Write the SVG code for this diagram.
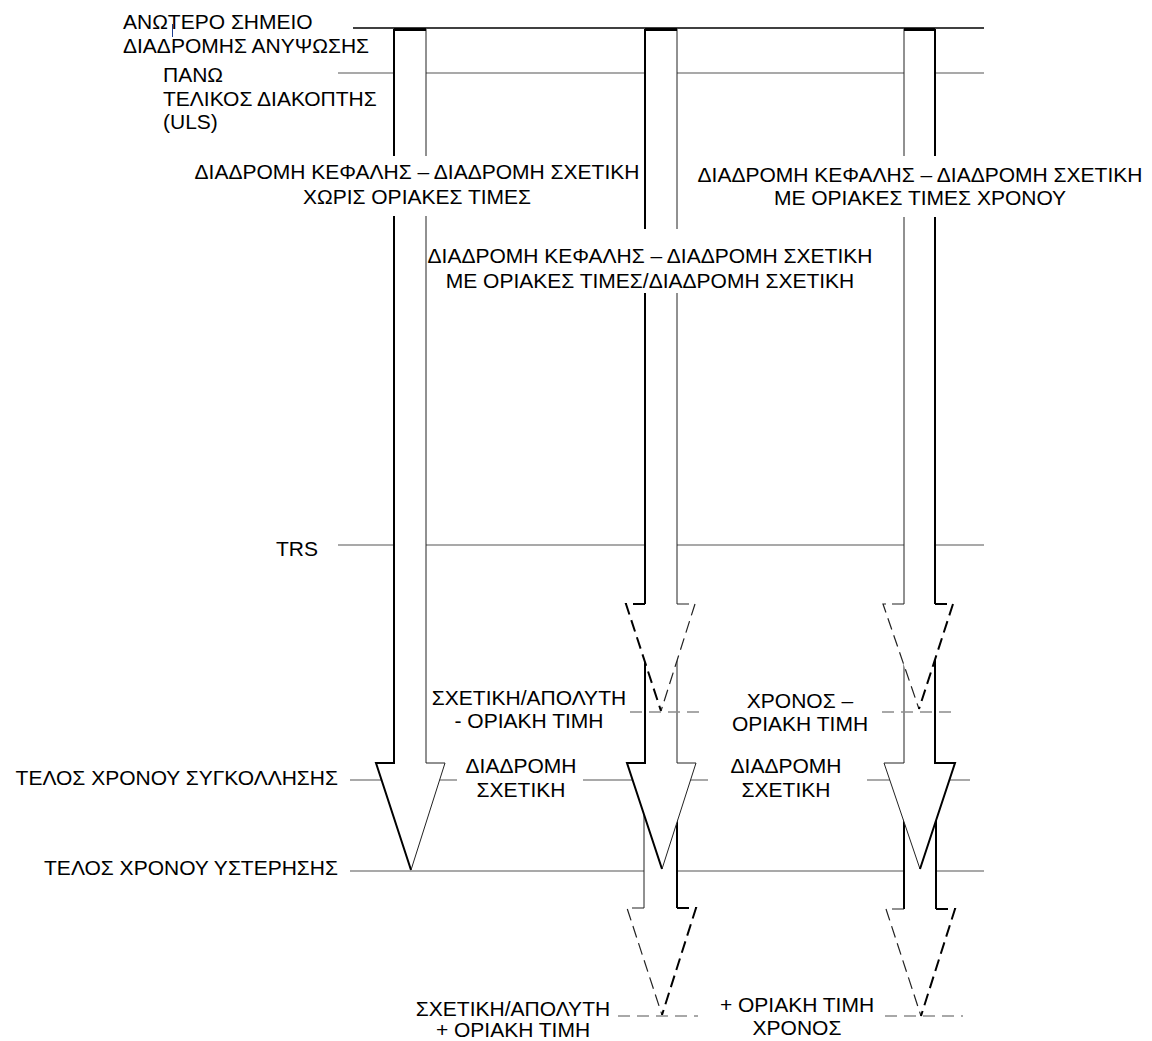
<svg xmlns="http://www.w3.org/2000/svg" width="1152" height="1041" viewBox="0 0 1152 1041">
<style>
text{font-family:"Liberation Sans",Arial,sans-serif;font-size:21px;fill:#000}
.m{text-anchor:middle}
.e{text-anchor:end}
.g{stroke:#8c8c8c;stroke-width:1.5;fill:none}
.gd{stroke:#8c8c8c;stroke-width:1.5;fill:none;stroke-dasharray:12 7}
.blk{stroke:#000;stroke-width:1.5;fill:none}
.fill{fill:#fff;stroke:none}
.tk{stroke:#000;stroke-width:2;fill:none}
.tn{stroke:#222;stroke-width:1;fill:none}
.tkd{stroke:#000;stroke-width:2;fill:none;stroke-dasharray:12 6}
.tnd{stroke:#222;stroke-width:1.2;fill:none;stroke-dasharray:12 6}
.cap{stroke:#000;stroke-width:3}
.bg{fill:#fff}
</style>
<g id="levels">
<line class="blk" x1="353" y1="28" x2="984" y2="28"/>
<line class="g" x1="338" y1="73" x2="984" y2="73"/>
<line class="g" x1="338" y1="545" x2="984" y2="545"/>
<line class="g" x1="350" y1="780" x2="457" y2="780"/>
<line class="g" x1="583" y1="780" x2="708" y2="780"/>
<line class="g" x1="867" y1="780" x2="970" y2="780"/>
<line class="g" x1="350" y1="871" x2="984" y2="871"/>
<line x1="172.5" y1="24" x2="172.5" y2="37" stroke="#1f3f8f" stroke-width="1"/>
</g>
<g id="connectors">
<g id="arrow-left">
<polygon class="fill" points="394,28 426,28 426,763 445,763 411,870 376,763 394,763"/>
<path class="tk" d="M394,29 V763 H376 L411,870"/>
<path class="tn" d="M426,29 V763 H445 L411,870"/>
<line class="cap" x1="394" y1="29.5" x2="426" y2="29.5"/>
</g>
<g id="arrow-mid-3">
<polygon class="fill" points="644,800 677,800 677,908 696,908 662,1015 627,908 644,908"/>
<path class="tn" d="M644,800 V908"/>
<path class="tk" d="M677,800 V908"/>
<path class="tnd" d="M644,908 H627 L662,1015"/>
<path class="tkd" d="M677,908 H696 L662,1015"/>
</g>
<g id="arrow-mid-2">
<polygon class="fill" points="645,640 677,640 677,763 696,763 662,869 627,763 645,763"/>
<path class="tk" d="M645,640 V763 H627 L662,869"/>
<path class="tn" d="M677,640 V763 H696 L662,869"/>
</g>
<g id="arrow-mid-1">
<polygon class="fill" points="645,28 677,28 677,604 695,604 661,711 626,604 645,604"/>
<path class="tk" d="M645,29 V604"/>
<path class="tn" d="M677,29 V604"/>
<path class="tkd" d="M645,604 H626 L661,711"/>
<path class="tnd" d="M677,604 H695 L661,711"/>
<line class="cap" x1="645" y1="29.5" x2="677" y2="29.5"/>
</g>
<g id="arrow-right-3">
<polygon class="fill" points="904,800 936,800 936,909 955,909 921,1016 886,909 904,909"/>
<path class="tk" d="M904,800 V909"/>
<path class="tk" d="M936,800 V909"/>
<path class="tnd" d="M904,909 H886 L921,1016"/>
<path class="tkd" d="M936,909 H955 L921,1016"/>
</g>
<g id="arrow-right-2">
<polygon class="fill" points="904,640 935,640 935,763 955,763 920,869 884,763 904,763"/>
<path class="tn" d="M904,640 V763 H884 L920,869"/>
<path class="tk" d="M935,640 V763 H955 L920,869"/>
</g>
<g id="arrow-right-1">
<polygon class="fill" points="904,28 935,28 935,604 953,604 919,709 883,604 904,604"/>
<path class="tn" d="M904,29 V604"/>
<path class="tk" d="M935,29 V604"/>
<path class="tnd" d="M904,604 H883 L919,709"/>
<path class="tkd" d="M935,604 H953 L919,709"/>
<line class="cap" x1="904" y1="29.5" x2="935" y2="29.5"/>
</g>
<line class="gd" x1="630" y1="712" x2="702" y2="712"/>
<line class="gd" x1="882" y1="712" x2="957" y2="712"/>
<line class="gd" x1="618" y1="1016" x2="698" y2="1016"/>
<line class="gd" x1="885" y1="1016" x2="963" y2="1016"/>
</g>
<g id="label-top">
<text x="123" y="29">ΑΝΩΤΕΡΟ ΣΗΜΕΙΟ</text>
<text x="123" y="53">ΔΙΑΔΡΟΜΗΣ ΑΝΥΨΩΣΗΣ</text>
</g>
<g id="label-uls">
<text x="163" y="82">ΠΑΝΩ</text>
<text x="163" y="106">ΤΕΛΙΚΟΣ ΔΙΑΚΟΠΤΗΣ</text>
<text x="163" y="129">(ULS)</text>
</g>
<g id="header-left">
<rect class="bg" x="188" y="156" width="455" height="60"/>
<text class="m" x="417" y="179">ΔΙΑΔΡΟΜΗ ΚΕΦΑΛΗΣ – ΔΙΑΔΡΟΜΗ ΣΧΕΤΙΚΗ</text>
<text class="m" x="417" y="204">ΧΩΡΙΣ ΟΡΙΑΚΕΣ ΤΙΜΕΣ</text>
</g>
<g id="header-right">
<rect class="bg" x="690" y="156" width="462" height="61"/>
<text class="m" x="920" y="182">ΔΙΑΔΡΟΜΗ ΚΕΦΑΛΗΣ – ΔΙΑΔΡΟΜΗ ΣΧΕΤΙΚΗ</text>
<text class="m" x="920" y="205">ΜΕ ΟΡΙΑΚΕΣ ΤΙΜΕΣ ΧΡΟΝΟΥ</text>
</g>
<g id="header-mid">
<rect class="bg" x="430" y="229" width="440" height="64"/>
<text class="m" x="650" y="263">ΔΙΑΔΡΟΜΗ ΚΕΦΑΛΗΣ – ΔΙΑΔΡΟΜΗ ΣΧΕΤΙΚΗ</text>
<text class="m" x="650" y="288">ΜΕ ΟΡΙΑΚΕΣ ΤΙΜΕΣ/ΔΙΑΔΡΟΜΗ ΣΧΕΤΙΚΗ</text>
</g>
<g id="label-trs"><text class="e" x="318" y="556">TRS</text></g>
<g id="label-rel-minus">
<text class="m" x="529" y="705">ΣΧΕΤΙΚΗ/ΑΠΟΛΥΤΗ</text>
<text class="m" x="529" y="728">- ΟΡΙΑΚΗ ΤΙΜΗ</text>
</g>
<g id="label-time-minus">
<text class="m" x="800" y="708">ΧΡΟΝΟΣ –</text>
<text class="m" x="800" y="731">ΟΡΙΑΚΗ ΤΙΜΗ</text>
</g>
<g id="label-path-mid">
<text class="m" x="521" y="773">ΔΙΑΔΡΟΜΗ</text>
<text class="m" x="521" y="797">ΣΧΕΤΙΚΗ</text>
</g>
<g id="label-path-right">
<text class="m" x="786" y="773">ΔΙΑΔΡΟΜΗ</text>
<text class="m" x="786" y="797">ΣΧΕΤΙΚΗ</text>
</g>
<g id="label-weld"><text class="e" x="338" y="785">ΤΕΛΟΣ ΧΡΟΝΟΥ ΣΥΓΚΟΛΛΗΣΗΣ</text></g>
<g id="label-hold"><text class="e" x="338" y="875">ΤΕΛΟΣ ΧΡΟΝΟΥ ΥΣΤΕΡΗΣΗΣ</text></g>
<g id="label-rel-plus">
<text class="m" x="513" y="1016">ΣΧΕΤΙΚΗ/ΑΠΟΛΥΤΗ</text>
<text class="m" x="513" y="1037">+ ΟΡΙΑΚΗ ΤΙΜΗ</text>
</g>
<g id="label-time-plus">
<text class="m" x="797" y="1012">+ ΟΡΙΑΚΗ ΤΙΜΗ</text>
<text class="m" x="797" y="1035">ΧΡΟΝΟΣ</text>
</g>
</svg>
